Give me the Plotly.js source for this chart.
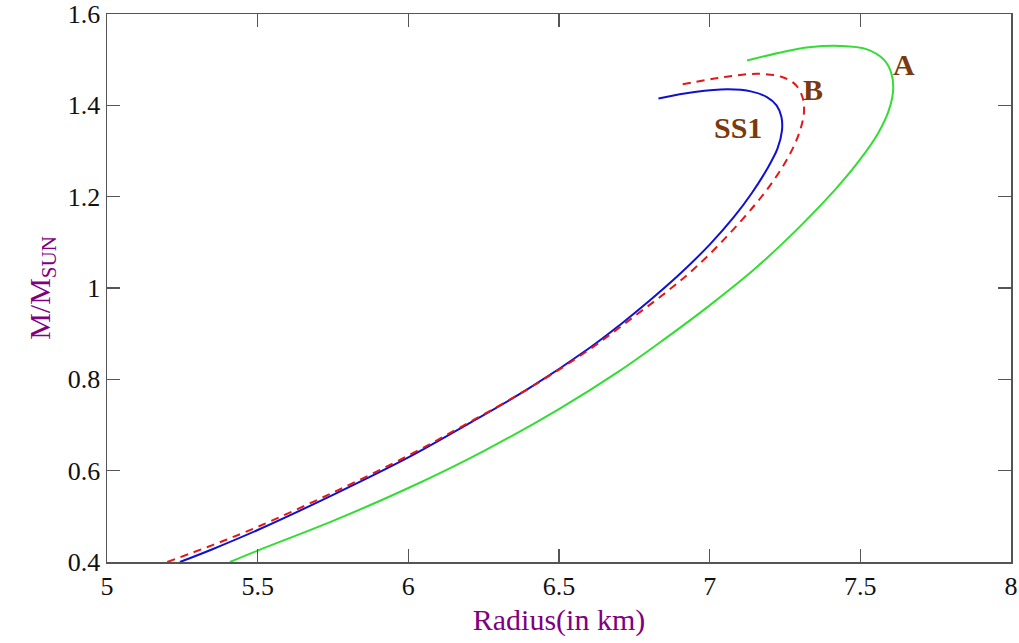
<!DOCTYPE html>
<html>
<head>
<meta charset="utf-8">
<script src="https://cdn.plot.ly/plotly-3.0.1.min.js"></script>
<style>
  html, body { margin: 0; padding: 0; background: #fff; }
  #chart { width: 1019px; height: 643px; }
</style>
</head>
<body>
<div id="chart"></div>
<script>
// Mass-radius relations (radius in km, mass in solar masses)
const radiusSS1 = [5.242, 5.35, 5.5, 5.75, 6.0, 6.2, 6.4, 6.6, 6.7, 6.8, 6.9, 7.0, 7.08, 7.14, 7.19, 7.225, 7.24, 7.238, 7.222, 7.19, 7.14, 7.06, 6.95, 6.83];
const massSS1   = [0.400, 0.428, 0.470, 0.547, 0.629, 0.703, 0.780, 0.868, 0.918, 0.972, 1.030, 1.095, 1.155, 1.208, 1.260, 1.305, 1.345, 1.375, 1.400, 1.418, 1.430, 1.435, 1.429, 1.415];

const radiusB = [5.20, 5.35, 5.5, 5.75, 6.0, 6.2, 6.4, 6.6, 6.75, 6.86, 6.95, 7.05, 7.15, 7.22, 7.27, 7.30, 7.313, 7.308, 7.285, 7.24, 7.16, 7.05, 6.91];
const massB   = [0.400, 0.437, 0.477, 0.552, 0.633, 0.705, 0.780, 0.865, 0.938, 0.993, 1.043, 1.108, 1.182, 1.243, 1.298, 1.345, 1.385, 1.418, 1.445, 1.462, 1.469, 1.462, 1.446];

const radiusA = [5.408, 5.5, 5.75, 6.0, 6.25, 6.5, 6.7, 6.85, 7.0, 7.15, 7.3, 7.42, 7.5, 7.56, 7.595, 7.609, 7.603, 7.578, 7.52, 7.433, 7.33, 7.25, 7.124];
const massA   = [0.400, 0.425, 0.490, 0.562, 0.643, 0.735, 0.818, 0.888, 0.962, 1.042, 1.135, 1.218, 1.282, 1.340, 1.390, 1.435, 1.470, 1.500, 1.523, 1.530, 1.527, 1.518, 1.498];

const curveNames = ['SS1', 'B', 'A'];
const xTicks = [5, 5.5, 6, 6.5, 7, 7.5, 8];
const yTicks = [0.4, 0.6, 0.8, 1, 1.2, 1.4, 1.6];

const serif = "'Liberation Serif', 'Times New Roman', Times, serif";
const labelColor = '#7a3a0e';
const titleColor = '#800080';

const traces = [
  { x: radiusSS1, y: massSS1, name: curveNames[0], mode: 'lines',
    line: { color: '#1010d0', width: 2, shape: 'spline', smoothing: 1 } },
  { x: radiusB, y: massB, name: curveNames[1], mode: 'lines',
    line: { color: '#e01818', width: 2, dash: '8px,6px', shape: 'spline', smoothing: 1 } },
  { x: radiusA, y: massA, name: curveNames[2], mode: 'lines',
    line: { color: '#33dd33', width: 2, shape: 'spline', smoothing: 1 } }
];

const axisCommon = {
  showgrid: false, zeroline: false,
  showline: true, linecolor: '#555', linewidth: 1.5, mirror: 'ticks',
  ticks: 'inside', ticklen: 13, tickcolor: '#555', tickwidth: 1.5,
  ticklabeloverflow: 'allow',
  tickfont: { family: serif, size: 26, color: '#111' }
};

const layout = {
  width: 1019, height: 643,
  margin: { l: 107, r: 8, t: 14, b: 81 },
  paper_bgcolor: '#fff', plot_bgcolor: '#fff',
  showlegend: false,
  xaxis: Object.assign({}, axisCommon, {
    range: [5, 8], tickvals: xTicks, ticktext: xTicks.map(String),
    title: { text: 'Radius(in km)', font: { family: serif, size: 30, color: titleColor }, standoff: 9 }
  }),
  yaxis: Object.assign({}, axisCommon, {
    range: [0.4, 1.6], tickvals: yTicks, ticktext: yTicks.map(String),
    title: { text: 'M/M<sub>SUN</sub>', font: { family: serif, size: 30, color: titleColor }, standoff: 8 }
  }),
  annotations: [
    { x: 7.094, y: 1.351, text: '<b>' + curveNames[0] + '</b>' },
    { x: 7.343, y: 1.434, text: '<b>' + curveNames[1] + '</b>' },
    { x: 7.645, y: 1.489, text: '<b>' + curveNames[2] + '</b>' }
  ].map(a => Object.assign(a, {
    xref: 'x', yref: 'y', showarrow: false,
    font: { family: serif, size: 30, color: labelColor }
  }))
};

Plotly.newPlot('chart', traces, layout, { staticPlot: true });
</script>
</body>
</html>
